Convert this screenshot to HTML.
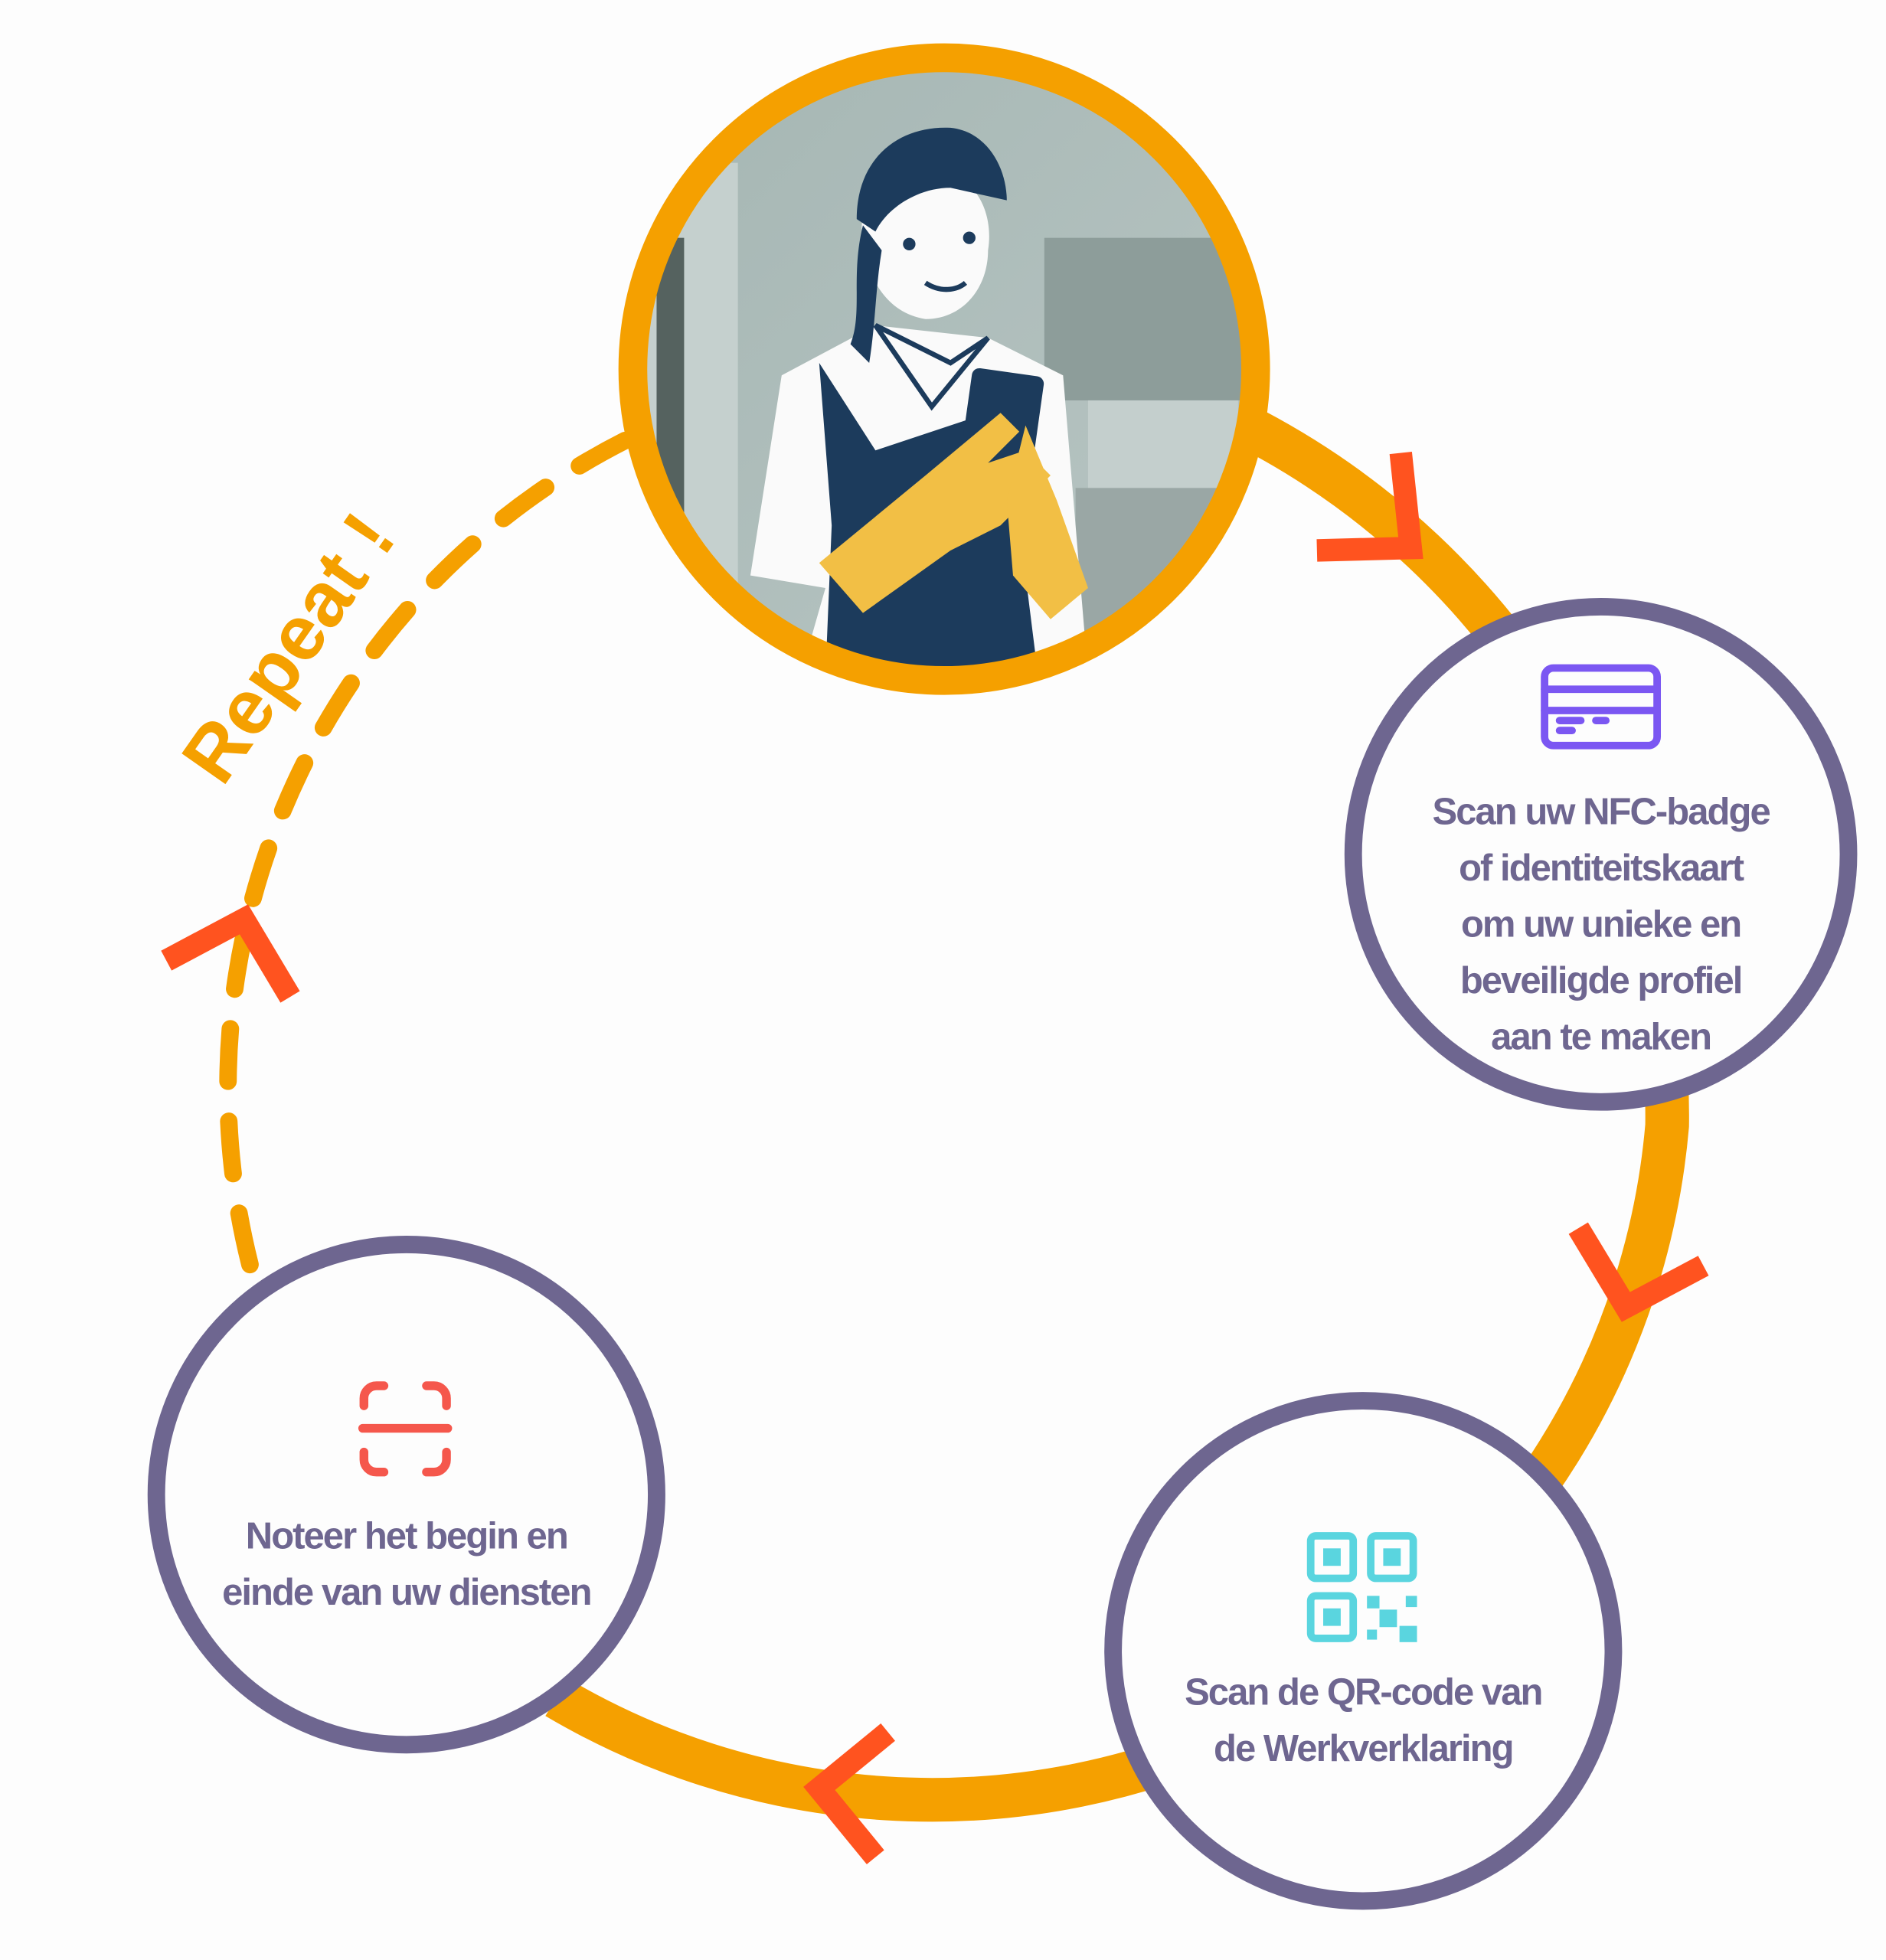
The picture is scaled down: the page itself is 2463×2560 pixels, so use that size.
<!DOCTYPE html>
<html><head><meta charset="utf-8"><style>
html,body{margin:0;padding:0;background:#fdfdfd;}
svg{display:block;}
text{font-family:"Liberation Sans",sans-serif;font-weight:bold;}
</style></head><body>
<svg width="2463" height="2560" viewBox="0 0 1508 1567" xmlns="http://www.w3.org/2000/svg">
<defs>
<clipPath id="pc"><circle cx="755" cy="295" r="240"/></clipPath>
<linearGradient id="bg" x1="0" y1="0" x2="1" y2="1">
<stop offset="0" stop-color="#a5b6b3"/><stop offset="1" stop-color="#b9c6c4"/></linearGradient>
</defs>
<rect width="1508" height="1567" fill="#fdfdfd"/>
<path d="M 1003 344 A 620 620 0 0 1 1333 900 A 590 590 0 0 1 445 1357" fill="none" stroke="#f5a000" stroke-width="35"/>
<path d="M 500 352 A 580 580 0 0 0 205 1030" fill="none" stroke="#f5a000" stroke-width="14" stroke-dasharray="42 32" stroke-linecap="round"/>
<circle cx="755" cy="295" r="250" fill="url(#bg)"/>
<g clip-path="url(#pc)">
<rect x="505" y="45" width="500" height="500" fill="url(#bg)"/>
<rect x="515" y="130" width="75" height="420" fill="#c5d0ce"/>
<rect x="525" y="190" width="22" height="300" fill="#55625f"/>
<rect x="835" y="190" width="160" height="130" fill="#8d9d9a"/>
<rect x="870" y="320" width="120" height="80" fill="#c4cfcd"/>
<rect x="860" y="390" width="140" height="120" fill="#9aa7a5"/>
<path d="M625 300 L600 460 L660 470 L640 540 L870 540 L860 420 L850 300 L790 270 L700 260 Z" fill="#fafafa"/>
<path d="M655 290 L700 360 L760 340 L820 320 L820 460 L830 540 L660 540 L665 420 Z" fill="#1c3b5c"/>
<path d="M700 260 L745 325 L790 270 L760 290 Z" fill="#fafafa" stroke="#1c3b5c" stroke-width="4"/>
<path d="M690 195 C685 160 700 140 740 135 C780 135 795 170 790 200 C790 230 770 255 740 255 C710 250 695 225 690 195 Z" fill="#fafafa"/>
<path d="M685 175 C685 125 720 100 760 102 C790 105 805 135 805 160 L760 150 C735 150 710 165 700 185 Z" fill="#1c3b5c"/>
<path d="M690 180 C680 220 690 250 680 275 L695 290 C700 260 700 230 705 200 Z" fill="#1c3b5c"/>
<circle cx="727" cy="195" r="5" fill="#1c3b5c"/><circle cx="775" cy="190" r="5" fill="#1c3b5c"/>
<path d="M740 226 C752 234 765 232 772 226" stroke="#1c3b5c" stroke-width="4" fill="none"/>
<rect x="770" y="297" width="58" height="110" rx="6" fill="#1c3b5c" transform="rotate(8 799 352)"/>
<path d="M655 450 L740 380 L800 330 L815 345 L790 370 L820 360 L840 380 L800 420 L760 440 L690 490 Z" fill="#f2bf45"/>
<path d="M820 340 L845 400 L870 470 L840 495 L810 460 L805 400 Z" fill="#f2bf45"/>
</g>
<circle cx="755" cy="295" r="249" fill="none" stroke="#f5a000" stroke-width="23"/>
<circle cx="1280" cy="683" r="198" fill="#fdfdfd" stroke="#6e6690" stroke-width="14"/>
<circle cx="1090" cy="1320" r="200" fill="#fdfdfd" stroke="#6e6690" stroke-width="14"/>
<circle cx="325" cy="1195" r="200" fill="#fdfdfd" stroke="#6e6690" stroke-width="14"/>
<g fill="none" stroke="#ff531f" stroke-width="18">
<polyline points="1120,362 1128,438 1053,440"/>
<polyline points="1262,982 1300,1045 1362,1012"/>
<polyline points="710,1385 655,1430 700,1485"/>
<polyline points="133,768 195,735 232,797"/>
</g>
<g fill="none" stroke="#7b57f2" stroke-width="6" stroke-linecap="round">
<rect x="1235" y="534" width="90" height="62" rx="7"/>
<line x1="1235" y1="551" x2="1325" y2="551"/><line x1="1235" y1="568" x2="1325" y2="568"/>
<line x1="1247" y1="576" x2="1264" y2="576"/><line x1="1276" y1="576" x2="1284" y2="576"/>
<line x1="1247" y1="584" x2="1257" y2="584"/>
</g>
<g fill="none" stroke="#5ad5df" stroke-width="6">
<rect x="1048" y="1228" width="34" height="34" rx="4"/>
<rect x="1096" y="1228" width="34" height="34" rx="4"/>
<rect x="1048" y="1276" width="34" height="34" rx="4"/>
</g>
<g fill="#5ad5df">
<rect x="1058" y="1238" width="14" height="14"/><rect x="1106" y="1238" width="14" height="14"/><rect x="1058" y="1286" width="14" height="14"/>
<rect x="1093" y="1276" width="10" height="10"/><rect x="1124" y="1276" width="9" height="9"/>
<rect x="1103" y="1287" width="14" height="14"/><rect x="1093" y="1303" width="8" height="8"/><rect x="1119" y="1300" width="14" height="13"/>
</g>
<g fill="none" stroke="#f5574c" stroke-width="7" stroke-linecap="round">
<path d="M291 1124 V1118 A10 10 0 0 1 301 1108 H307"/>
<path d="M341 1108 H347 A10 10 0 0 1 357 1118 V1124"/>
<path d="M291 1161 V1167 A10 10 0 0 0 301 1177 H307"/>
<path d="M341 1177 H347 A10 10 0 0 0 357 1167 V1161"/>
<line x1="290" y1="1142" x2="358" y2="1142"/>
</g>
<g fill="#6e6690" font-size="30" text-anchor="middle" letter-spacing="-1.2">
<text x="1280" y="659">Scan uw NFC-badge</text>
<text x="1280" y="704">of identiteitskaart</text>
<text x="1280" y="749">om uw unieke en</text>
<text x="1280" y="794">beveiligde profiel</text>
<text x="1280" y="839">aan te maken</text>
<text x="1090" y="1363">Scan de QR-code van</text>
<text x="1090" y="1408">de Werkverklaring</text>
<text x="325" y="1238">Noteer het begin en</text>
<text x="325" y="1283">einde van uw diensten</text>
</g>
<text x="0" y="0" fill="#f5a000" font-size="62" text-anchor="middle" transform="translate(248,530) rotate(-55)">Repeat !</text>
</svg>
</body></html>
